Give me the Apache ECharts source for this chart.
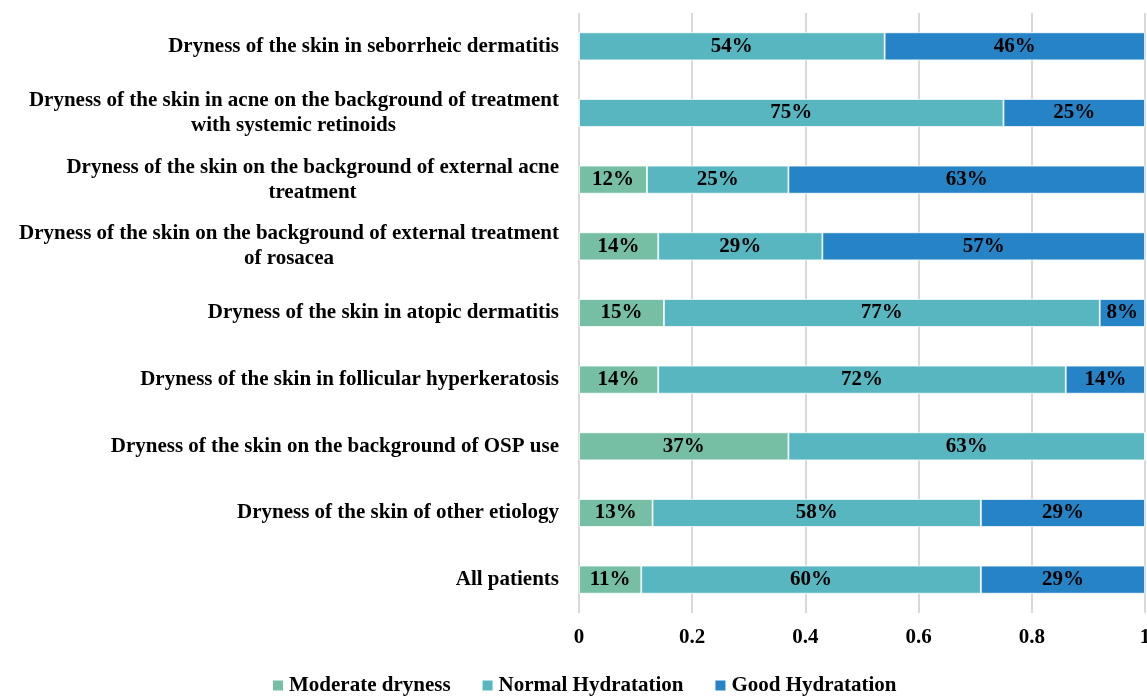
<!DOCTYPE html>
<html>
<head>
<meta charset="utf-8">
<script src="https://cdn.jsdelivr.net/npm/echarts@6/dist/echarts.min.js"></script>
<style>
html,body{margin:0;padding:0;background:#fff;overflow:hidden;width:100%;height:100%;}
#chart{width:100vw;height:100vh;}
</style>
</head>
<body>
<div id="chart"></div>
<script>
const categories = [
  "Dryness of the skin in seborrheic dermatitis",
  "Dryness of the skin in acne on the background of treatment\nwith systemic retinoids",
  "Dryness of the skin on the background of external acne\ntreatment",
  "Dryness of the skin on the background of external treatment\nof rosacea",
  "Dryness of the skin in atopic dermatitis",
  "Dryness of the skin in follicular hyperkeratosis",
  "Dryness of the skin on the background of OSP use",
  "Dryness of the skin of other etiology",
  "All patients"
];
const moderateDryness = [0, 0, 0.12, 0.14, 0.15, 0.14, 0.37, 0.13, 0.11];
const normalHydration = [0.54, 0.75, 0.25, 0.29, 0.77, 0.72, 0.63, 0.58, 0.60];
const goodHydration   = [0.46, 0.25, 0.63, 0.57, 0.08, 0.14, 0, 0.29, 0.29];
const xTicks = [0, 0.2, 0.4, 0.6, 0.8, 1];

const FONT = '"Liberation Serif", "Times New Roman", serif';
const FS = 21;
const cvs = document.createElement('canvas').getContext('2d');
cvs.font = 'bold ' + FS + 'px ' + FONT;

const baseRich = { fontFamily: FONT, fontWeight: 'bold', fontSize: FS, lineHeight: 25, color: '#000' };
const rich = { a: Object.assign({}, baseRich) };
categories.forEach(c => {
  const ls = c.split('\n');
  if (ls.length > 1) {
    const w = Math.ceil(cvs.measureText(ls[0]).width);
    rich['c' + w] = Object.assign({}, baseRich, { width: w, align: 'center' });
  }
});

const chart = echarts.init(document.getElementById('chart'));
const labelCfg = {
  show: true,
  fontFamily: FONT,
  fontWeight: 'bold',
  fontSize: FS,
  color: '#000',
  formatter: p => p.value > 0 ? Math.round(p.value * 100) + '%' : ''
};
function mk(name, data, color) {
  return {
    name, type: 'bar', stack: 'all', data,
    barWidth: 28,
    itemStyle: { color, borderColor: '#fff', borderWidth: 0.8 },
    label: labelCfg
  };
}
chart.setOption({
  animation: false,
  grid: { left: 579, width: 566, top: 13, bottom: 84, containLabel: false, outerBoundsMode: 'none' },
  legend: {
    top: 670,
    left: 266,
    itemWidth: 12, itemHeight: 12, itemGap: 30,
    icon: 'rect',
    textStyle: { fontFamily: FONT, fontWeight: 'bold', fontSize: FS, color: '#000' },
    data: ['Moderate dryness', 'Normal Hydratation', 'Good Hydratation']
  },
  xAxis: {
    type: 'value', min: 0, max: 1, interval: 0.2,
    axisLine: { show: false }, axisTick: { show: false },
    splitLine: { lineStyle: { color: '#d9d9d9', width: 2 } },
    axisLabel: {
      margin: 14, fontFamily: FONT, fontWeight: 'bold', fontSize: FS, color: '#000',
      formatter: v => { const t = xTicks.find(x => Math.abs(x - v) < 1e-9); return t === undefined ? '' : String(t); }
    }
  },
  yAxis: {
    type: 'category', inverse: true, data: categories,
    axisLine: { show: false }, axisTick: { show: false },
    axisLabel: {
      margin: 20, color: '#000',
      fontFamily: FONT, fontWeight: 'bold', fontSize: FS, lineHeight: 25,
      formatter: v => {
        const lines = v.split('\n');
        if (lines.length === 1) return '{a|' + v + '}';
        const w = Math.ceil(cvs.measureText(lines[0]).width);
        return '{a|' + lines[0] + '}\n{c' + w + '|' + lines[1] + '}';
      },
      rich: rich
    }
  },
  series: [
    mk('Moderate dryness', moderateDryness, '#76BFA5'),
    mk('Normal Hydratation', normalHydration, '#58B6C0'),
    mk('Good Hydratation', goodHydration, '#2683C6')
  ]
});
</script>
</body>
</html>
